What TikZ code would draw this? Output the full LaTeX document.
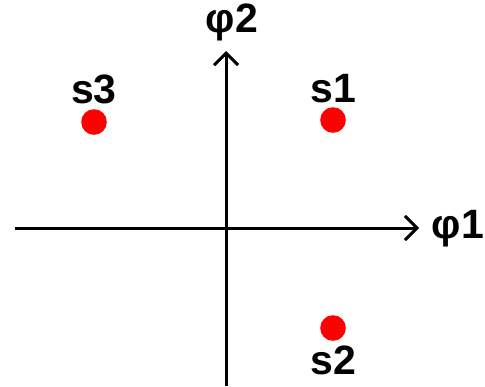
\documentclass[tikz,border=0pt]{standalone}
\usepackage{fontspec}
\setmainfont{Liberation Sans}
\usetikzlibrary{arrows.meta,positioning}
\tikzset{
  sigdot/.style={circle, fill=red, minimum size=12.8pt, inner sep=0pt},
  siglab/.style={font=\fontsize{20.5}{22}\selectfont\bfseries, inner sep=1pt},
  sigaxis/.style={line width=1.5pt, -{Straight Barb[length=6pt,width=12pt,line width=1.5pt]}}
}
\begin{document}
\begin{tikzpicture}[x=0.5pt,y=-0.5pt]
  \useasboundingbox (0,0) rectangle (485,386);
  % axes
  \coordinate (xa) at (15,228);
  \coordinate (xb) at (419,228);
  \coordinate (ya) at (226,386);
  \coordinate (yb) at (226,51);
  \draw[sigaxis] (xa) -- (xb);
  \draw[sigaxis] (ya) -- (yb);
  \node[siglab] (phi1) at (458,229) {φ1};
  \node[siglab] (phi2) at (232,22) {φ2};
  % signal points
  \node[sigdot] (s1) at (333,120) {};
  \node[sigdot] (s2) at (333,328) {};
  \node[sigdot] (s3) at (94,122) {};
  \node[siglab, above=1pt of s1] (l1) {s1};
  \node[siglab, below=1pt of s2] (l2) {s2};
  \node[siglab, above=1pt of s3] (l3) {s3};
\end{tikzpicture}
\end{document}
